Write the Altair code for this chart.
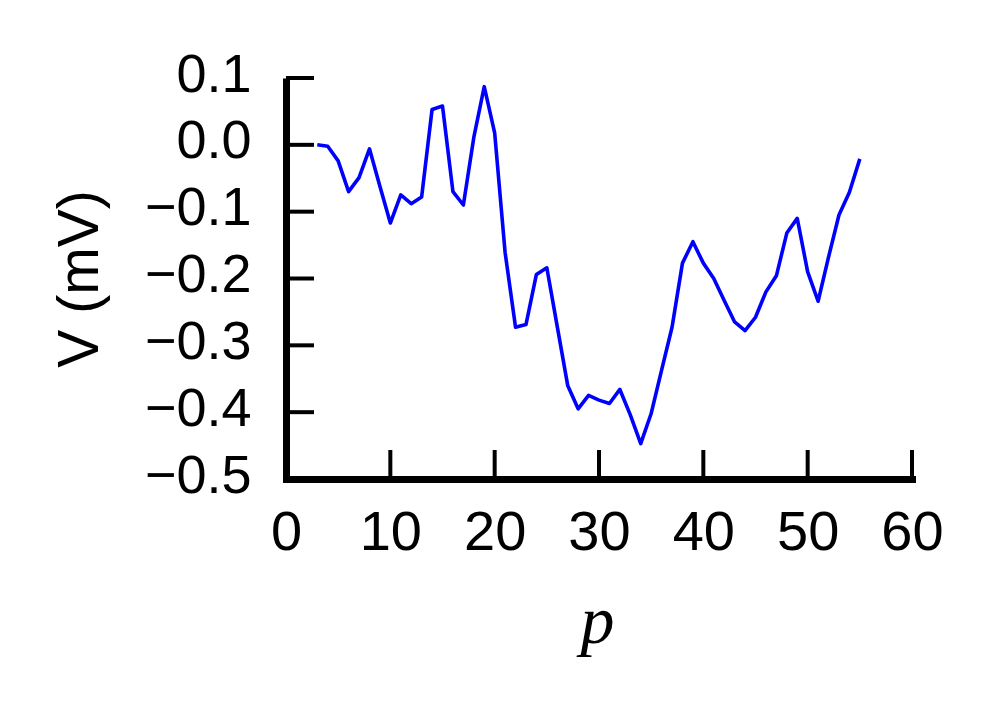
import altair as alt
import pandas as pd

# data
p_vals = list(range(3, 56))
v_vals = [0.000, -0.002, -0.024, -0.070, -0.049, -0.006, -0.062, -0.117, -0.075, -0.088,
          -0.078, 0.053, 0.058, -0.070, -0.090, 0.011, 0.087, 0.018, -0.161, -0.273,
          -0.269, -0.194, -0.184, -0.272, -0.360, -0.395, -0.375, -0.382, -0.387, -0.366,
          -0.404, -0.447, -0.402, -0.337, -0.273, -0.177, -0.145, -0.177, -0.200, -0.233,
          -0.265, -0.278, -0.258, -0.220, -0.196, -0.132, -0.110, -0.190, -0.234, -0.168,
          -0.105, -0.071, -0.021]
x_ticks = [0, 10, 20, 30, 40, 50, 60]
y_ticks = [-0.5, -0.4, -0.3, -0.2, -0.1, 0.0, 0.1]

W, H = 626, 401

df = pd.DataFrame({"p": p_vals, "v": v_vals})
xt = pd.DataFrame({"t": x_ticks})
yt = pd.DataFrame({"t": y_ticks})

xscale = alt.Scale(domain=[0, 60], nice=False, zero=False)
yscale = alt.Scale(domain=[-0.5, 0.1], nice=False, zero=False)

line = alt.Chart(df).mark_line(color="#0000ff", strokeWidth=3.6, strokeJoin="round").encode(
    x=alt.X("p:Q", scale=xscale, axis=alt.Axis(
        values=x_ticks, format="d", title="p", grid=False, ticks=False, tickSize=0,
        domainColor="black", domainWidth=7, domainCap="square",
        labelFont="Liberation Sans", labelFontSize=56, labelColor="black",
        labelPadding=26, labelFlush=False, labelOverlap=False, labelBound=False,
        titleFont="Liberation Serif", titleFontStyle="italic", titleFontWeight="normal",
        titleFontSize=68, titleColor="black", titleX=311, titleY=163,
        titleBaseline="alphabetic")),
    y=alt.Y("v:Q", scale=yscale, axis=alt.Axis(
        values=y_ticks, format=".1f", title="V (mV)", grid=False, ticks=False, tickSize=0,
        domainColor="black", domainWidth=7, domainCap="butt",
        labelFont="Liberation Sans", labelFontSize=54, labelColor="black",
        labelPadding=35, labelFlush=False, labelOverlap=False, labelBound=False,
        labelOffset=-3,
        titleFont="Liberation Sans", titleFontWeight="normal", titleFontSize=57,
        titleColor="black", titleX=-206, titleY=H / 2, titleBaseline="middle")),
)

xtick_rules = alt.Chart(xt).mark_rule(color="black", strokeWidth=4).encode(
    x=alt.X("t:Q", scale=xscale),
    y=alt.value(H), y2=alt.value(H - 29),
)
ytick_rules = alt.Chart(yt).mark_rule(color="black", strokeWidth=4).encode(
    y=alt.Y("t:Q", scale=yscale),
    x=alt.value(0), x2=alt.value(28),
)

chart = alt.layer(line, xtick_rules, ytick_rules).properties(
    width=W, height=H,
    autosize=alt.AutoSizeParams(type="none"),
    padding={"left": 278, "top": 70, "right": 60, "bottom": 220},
    background="white",
).configure_view(stroke=None)

chart.save("out.html", embed_options={"renderer": "svg", "actions": False})
